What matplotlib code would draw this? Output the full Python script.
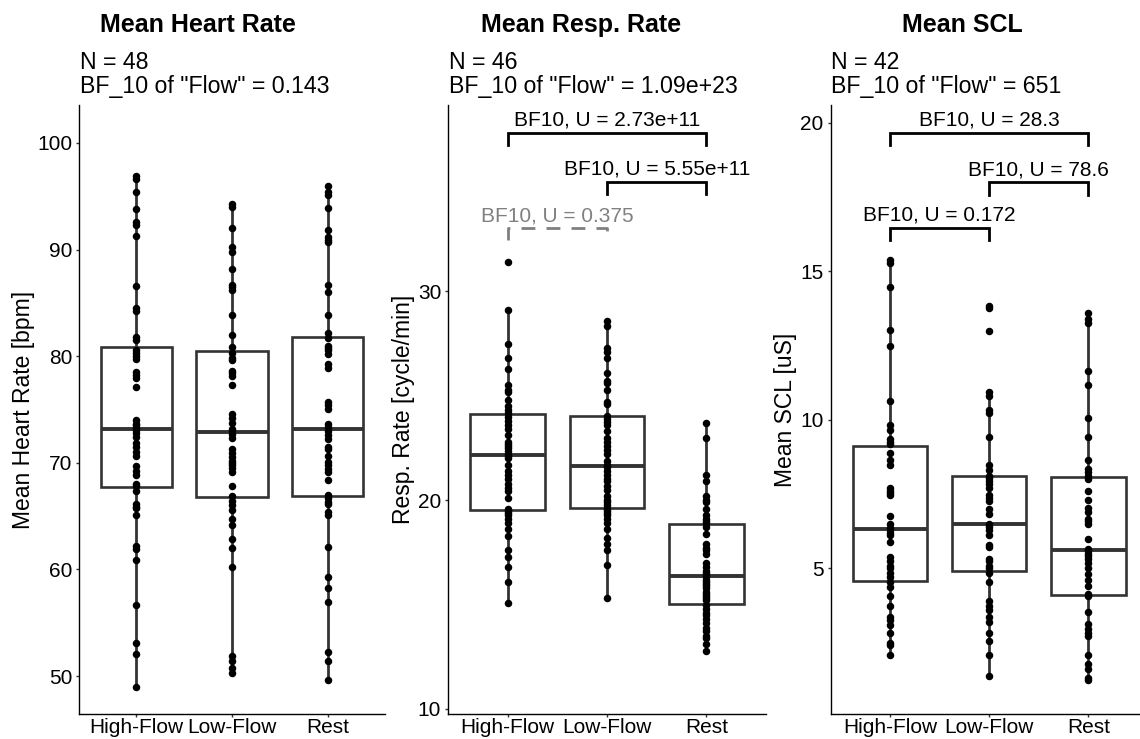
import matplotlib
matplotlib.use('Agg')
import matplotlib.pyplot as plt

plt.rcParams['font.family'] = ['Liberation Sans', 'DejaVu Sans']

conditions = ['High-Flow', 'Low-Flow', 'Rest']

# Mean heart rate [bpm], N = 48
hr_high = [49.0, 52.1, 53.1, 56.7, 60.9, 61.9, 62.2, 65.1, 65.8, 65.9, 66.1, 67.4,
           67.8, 68.0, 68.9, 69.2, 69.7, 70.6, 71.0, 71.5, 71.9, 72.4, 72.8, 73.1,
           73.3, 73.5, 73.6, 74.0, 77.1, 78.0, 78.2, 78.5, 79.7, 80.0, 80.3, 80.6,
           81.5, 81.8, 84.2, 84.5, 86.6, 91.3, 92.3, 92.6, 93.8, 95.4, 96.6, 96.9]
hr_low = [50.3, 50.8, 51.4, 51.9, 60.2, 62.0, 62.9, 64.2, 64.7, 65.6, 66.0, 66.4,
          66.9, 67.8, 69.1, 69.5, 69.8, 70.0, 70.2, 70.5, 70.9, 71.3, 72.3, 72.7,
          73.0, 73.2, 73.7, 74.2, 74.6, 77.3, 78.1, 78.4, 78.6, 79.6, 79.8, 80.3,
          80.9, 82.0, 83.9, 86.2, 86.5, 86.7, 88.2, 89.8, 90.2, 92.0, 94.0, 94.3]
hr_rest = [49.6, 51.4, 52.3, 56.9, 58.3, 59.3, 62.1, 65.1, 65.4, 66.1, 66.3, 66.7,
           67.0, 68.4, 69.1, 69.4, 69.8, 70.1, 70.6, 71.3, 71.5, 72.2, 72.6, 73.0,
           73.4, 73.6, 75.0, 75.4, 75.7, 78.9, 79.3, 80.2, 80.6, 80.8, 81.0, 81.7,
           82.2, 83.9, 86.0, 86.7, 90.7, 90.9, 91.2, 91.8, 93.9, 95.1, 95.4, 96.0]

# Respiration rate [cycle/min], N = 46
rr_high = [15.1, 16.1, 16.8, 17.3, 17.6, 18.3, 18.6, 18.9, 19.1, 19.3, 19.4, 19.5,
           19.6, 20.1, 20.45, 20.6, 20.8, 21.0, 21.2, 21.4, 21.7, 22.0, 22.1, 22.2,
           22.35, 22.5, 22.6, 22.7, 22.8, 23.1, 23.4, 23.6, 23.8, 24.0, 24.2,
           24.3, 24.5, 24.8, 25.2, 25.3, 25.5, 26.3, 26.8, 27.5, 29.1, 31.4]
rr_low = [15.3, 16.9, 17.6, 17.9, 18.2, 18.6, 18.9, 19.1, 19.3, 19.4, 19.5, 19.6,
          19.75, 19.9, 20.0, 20.2, 20.5, 20.7, 20.9, 21.0, 21.2, 21.4, 21.6, 21.7,
          21.9, 22.2, 22.4, 22.6, 22.8, 23.0, 23.3, 23.6, 23.75, 23.9, 24.05,
          24.6, 24.7, 25.3, 25.6, 25.7, 26.1, 26.8, 27.1, 27.3, 28.35, 28.6]
rr_rest = [12.8, 13.1, 13.4, 13.5, 13.75, 13.9, 14.1, 14.3, 14.5, 14.6, 14.8, 15.0,
           15.2, 15.3, 15.4, 15.5, 15.6, 15.8, 15.9, 16.0, 16.1, 16.2, 16.3, 16.4,
           16.5, 16.6, 16.8, 17.0, 17.4, 17.6, 17.7, 17.9, 18.4, 18.7, 18.9,
           19.0, 19.1, 19.3, 19.6, 19.9, 20.0, 20.2, 20.9, 21.2, 23.0, 23.7]

# Mean skin conductance level [uS], N = 42
scl_high = [2.10, 2.41, 2.49, 2.81, 3.1, 3.28, 3.36, 3.75, 4.07, 4.38, 4.54,
            4.7, 4.86, 5.0, 5.09, 5.25, 5.4, 5.9, 6.12, 6.20, 6.3, 6.36, 6.5, 6.75,
            7.46, 7.54, 7.6, 7.70, 8.49, 8.64, 8.9, 9.2,
            9.27, 9.35, 9.67, 9.83, 10.65, 12.48, 13.01, 14.48, 15.27, 15.38]
scl_low = [1.39, 2.10, 2.57, 2.81, 3.20, 3.36, 3.60, 3.75, 3.91, 4.54, 4.86,
           5.02, 5.09, 5.25, 5.33, 5.73, 5.80, 6.12, 6.3, 6.4, 6.45, 6.51, 6.83,
           7.0, 7.27, 7.38, 7.46, 7.70, 7.85, 7.93, 8.06, 8.12,
           8.3, 8.49, 9.43, 10.22, 10.33, 10.80, 10.93, 13.0, 13.77, 13.85]
scl_rest = [1.23, 1.31, 1.62, 1.78, 2.10, 2.73, 2.81, 2.97, 3.12, 3.52, 4.07,
            4.15, 4.4, 4.62, 4.8, 5.02, 5.17, 5.33, 5.41, 5.5, 5.6, 5.65, 6.0,
            6.51, 6.59, 6.67, 6.91, 7.02, 7.3, 7.59, 8.0, 8.1,
            8.25, 8.36, 8.64, 9.43, 10.06, 11.17, 11.64, 13.25, 13.4, 13.61]

# pairwise Bayes factors and bracket heights
rr_pairs = [(1, 3), (2, 3), (1, 2)]
rr_bf = ['2.73e+11', '5.55e+11', '0.375']
rr_bracket_y = [37.6, 35.26, 33.04]
rr_dashed = [False, False, True]

scl_pairs = [(1, 3), (2, 3), (1, 2)]
scl_bf = ['28.3', '78.6', '0.172']
scl_bracket_y = [19.66, 18.0, 16.47]
scl_dashed = [False, False, False]

W, H = 1140, 739
box_col = '#333333'

fig = plt.figure(figsize=(W / 100, H / 100), dpi=100)


def add_ax(left, right, top=105, bottom=714):
    return fig.add_axes([left / W, 1 - bottom / H, (right - left) / W, (bottom - top) / H])


def draw_panel(ax, groups, ylim, yticks, ylabel, label_x):
    ax.boxplot(groups, positions=[1, 2, 3], widths=0.75, whis=1.5,
               showfliers=False, showcaps=False, patch_artist=True,
               boxprops=dict(facecolor='white', edgecolor=box_col, linewidth=1.9),
               medianprops=dict(color=box_col, linewidth=2.8),
               whiskerprops=dict(color=box_col, linewidth=2.0),
               zorder=2)
    for i, g in enumerate(groups):
        ax.plot([i + 1] * len(g), g, 'o', color='black', ms=4.4,
                linestyle='none', zorder=3)
    ax.set_xlim(0.4, 3.6)
    ax.set_ylim(*ylim)
    ax.set_yticks(yticks)
    ax.set_xticks([1, 2, 3])
    ax.set_xticklabels(conditions)
    for s in ['top', 'right']:
        ax.spines[s].set_visible(False)
    for s in ['left', 'bottom']:
        ax.spines[s].set_linewidth(1.0)
    ax.tick_params(axis='both', length=2.4, width=1.0, color=box_col,
                   labelsize=15, labelcolor='black')
    ax.tick_params(axis='x', pad=0.5)
    ax.tick_params(axis='y', pad=2.5)
    ax.set_ylabel(ylabel, fontsize=16.5)
    ax.yaxis.set_label_coords(label_x, 0.5)


def draw_brackets(ax, pairs, labels, levels, dashed, tip):
    for (a, b), lab, y, d in zip(pairs, labels, levels, dashed):
        col = '#808080' if d else 'black'
        ls = (0, (5, 4)) if d else '-'
        ax.plot([a, a, b, b], [y - tip, y, y, y - tip], color=col, linewidth=2.0,
                linestyle=ls, solid_joinstyle='miter', clip_on=False, zorder=4)
        ax.annotate('BF10, U = ' + lab, xy=((a + b) / 2, y), xytext=(0, 5),
                    textcoords='offset points', ha='center', va='baseline',
                    fontsize=15, color=col, annotation_clip=False)


ax1 = add_ax(79, 385)
draw_panel(ax1, [hr_high, hr_low, hr_rest], (46.44, 103.56), [50, 60, 70, 80, 90, 100],
           'Mean Heart Rate [bpm]', -0.144)

ax2 = add_ax(448, 766)
draw_panel(ax2, [rr_high, rr_low, rr_rest], (9.76, 38.93), [10, 20, 30],
           'Resp. Rate [cycle/min]', -0.104)
draw_brackets(ax2, rr_pairs, rr_bf, rr_bracket_y, rr_dashed, 0.6)

ax3 = add_ax(830.5, 1148)
draw_panel(ax3, [scl_high, scl_low, scl_rest], (0.1, 20.6), [5, 10, 15, 20],
           'Mean SCL [uS]', -0.106)
draw_brackets(ax3, scl_pairs, scl_bf, scl_bracket_y, scl_dashed, 0.42)

titles = ['Mean Heart Rate', 'Mean Resp. Rate', 'Mean SCL']
title_x = [198, 581, 962]
panel_left = [80, 449, 831]
n_text = ['N = 48', 'N = 46', 'N = 42']
bf_text = ['BF_10 of "Flow" = 0.143', 'BF_10 of "Flow" = 1.09e+23', 'BF_10 of "Flow" = 651']

for t, tx, lx, n, bf in zip(titles, title_x, panel_left, n_text, bf_text):
    fig.text(tx / W, 1 - 32 / H, t, ha='center', va='baseline',
             fontsize=18, fontweight='bold')
    fig.text(lx / W, 1 - 69 / H, n, ha='left', va='baseline', fontsize=16.7)
    fig.text(lx / W, 1 - 93 / H, bf, ha='left', va='baseline', fontsize=16.7)

fig.savefig('out.png', dpi=100)
